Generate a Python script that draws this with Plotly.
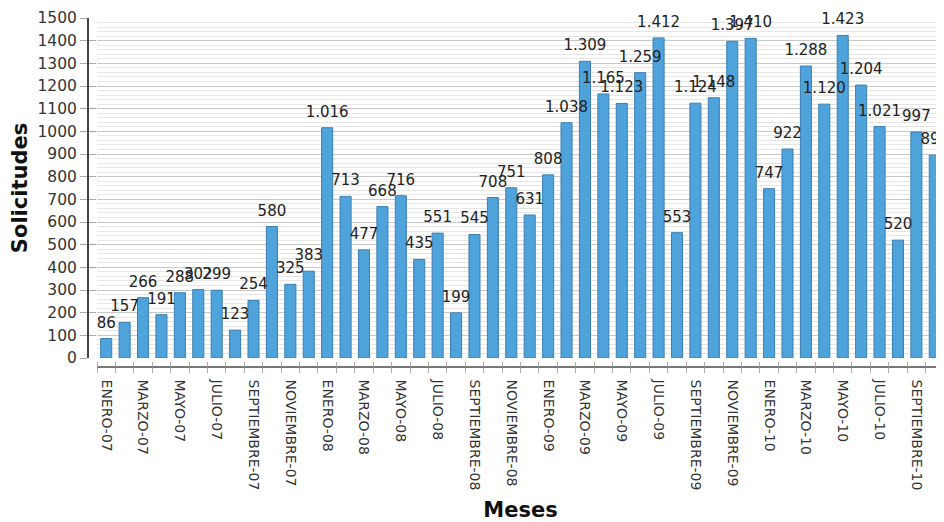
import plotly.graph_objects as go

months = ["ENERO", "FEBRERO", "MARZO", "ABRIL", "MAYO", "JUNIO", "JULIO",
          "AGOSTO", "SEPTIEMBRE", "OCTUBRE", "NOVIEMBRE", "DICIEMBRE"]
years = ["07", "08", "09", "10"]
categories = [f"{m}-{y}" for y in years for m in months][:46]

values = [86, 157, 266, 191, 288, 302, 299, 123, 254, 580, 325, 383,
          1016, 713, 477, 668, 716, 435, 551, 199, 545, 708, 751, 631,
          808, 1038, 1309, 1165, 1123, 1259, 1412, 553, 1124, 1148, 1397, 1410,
          747, 922, 1288, 1120, 1423, 1204, 1021, 520, 997, 895]

positions = list(range(len(categories)))
tick_positions = positions[::2]
tick_labels = categories[::2]

# page body has an 8px default margin; size figure to fit the 944x522 window
W, H = 936, 514
ml, mr, mt, mb = 80, 0, 10, 155
plot_w = W - ml - mr
plot_h = H - mt - mb
dx = 9 / plot_w
dy = 9 / plot_h
x_range = [-0.5, len(categories) - 0.5]
y_range = [0, 1500]

fig = go.Figure()
fig.add_trace(go.Bar(
    x=positions, y=values,
    width=0.6,
    marker=dict(color="#4fa3db", line=dict(color="#3b7fb3", width=1)),
    hoverinfo="skip",
))
fig.add_trace(go.Scatter(
    x=positions, y=values,
    mode="markers+text",
    marker=dict(size=10, color="rgba(0,0,0,0)"),
    texttemplate="%{y:,}",
    textposition="top center",
    cliponaxis=False,
    textfont=dict(family="DejaVu Sans", size=15, color="#222222"),
    hoverinfo="skip",
))
# invisible trace carrying the overlay axes (inner half of the crossing ticks)
fig.add_trace(go.Scatter(
    x=positions, y=values, xaxis="x2", yaxis="y2",
    mode="none", hoverinfo="skip", showlegend=False,
))

fig.update_layout(
    width=W, height=H,
    margin=dict(l=ml, r=mr, t=mt, b=mb),
    paper_bgcolor="white", plot_bgcolor="white",
    separators=",.",
    showlegend=False,
    font=dict(family="DejaVu Sans", color="#333333"),
    xaxis=dict(
        domain=[dx, 1], anchor="free", position=0, automargin=False,
        range=x_range,
        tickmode="array", tickvals=tick_positions, ticktext=tick_labels,
        tickangle=90, ticks="", ticklabelstandoff=9,
        tickfont=dict(family="DejaVu Sans", size=14, color="#333333"),
        showline=True, linecolor="#777777", linewidth=1.5,
        showgrid=False, zeroline=False,
        minor=dict(tickmode="linear", tick0=-0.5, dtick=1, ticks="outside",
                   ticklen=5, tickcolor="#aaaaaa", showgrid=False),
        title=dict(text="<b>Meses</b>", standoff=24,
                   font=dict(family="DejaVu Sans", size=21, color="#111111")),
    ),
    xaxis2=dict(
        domain=[dx, 1], anchor="free", position=0, overlaying="x",
        automargin=False, range=x_range, showticklabels=False,
        ticks="", showline=False, showgrid=False, zeroline=False,
        minor=dict(tickmode="linear", tick0=-0.5, dtick=1, ticks="inside",
                   ticklen=5, tickcolor="#aaaaaa", showgrid=False),
    ),
    yaxis=dict(
        domain=[dy, 1], anchor="free", position=0, automargin=False,
        range=y_range, dtick=100, tick0=0,
        ticks="outside", ticklen=7, tickcolor="#aaaaaa",
        tickfont=dict(family="DejaVu Sans", size=15.5, color="#333333"),
        showline=True, linecolor="#444444", linewidth=2,
        showgrid=True, gridcolor="#c8c8c8", gridwidth=1,
        zeroline=False,
        minor=dict(dtick=20, showgrid=True, gridcolor="#e6e6e6", gridwidth=1),
        title=dict(text="<b>Solicitudes</b>", standoff=8,
                   font=dict(family="DejaVu Sans", size=21, color="#111111")),
    ),
    yaxis2=dict(
        domain=[dy, 1], anchor="free", position=0, overlaying="y",
        automargin=False, range=y_range, dtick=100, tick0=0,
        showticklabels=False, ticks="inside", ticklen=7, tickcolor="#aaaaaa",
        showline=False, showgrid=False, zeroline=False,
    ),
)

fig.write_html("out.html")
